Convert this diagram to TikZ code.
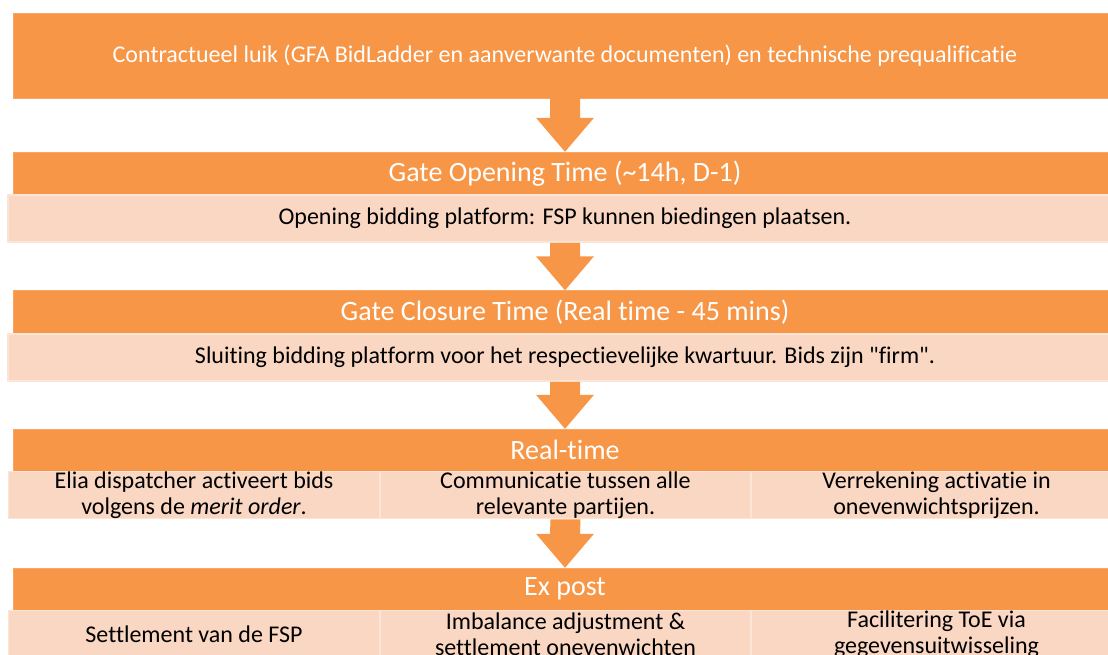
\documentclass[tikz,border=0pt]{standalone}
\usepackage{fontspec}
\setmainfont{Carlito}[Ligatures={NoCommon}]
\usetikzlibrary{calc}
\definecolor{accent}{HTML}{F79646}
\definecolor{tint}{HTML}{FAD7C3}
\definecolor{tintedge}{HTML}{FCE4D7}
\tikzset{
  topbox/.style={fill=accent, draw=accent!85!white, minimum width=1104pt, minimum height=85pt, inner sep=0pt, text=white, font=\fontsize{24}{29}\selectfont},
  header/.style={fill=accent, draw=accent!85!white, minimum width=1104pt, minimum height=43pt, inner sep=0pt, text=white, font=\fontsize{28}{33}\selectfont},
  body/.style={fill=tint, draw=tintedge, line width=1.5pt, minimum height=47pt, inner sep=0pt, align=center, text=black, font=\fontsize{24}{25.5}\selectfont},
  cell/.style={body, minimum width=371pt}
}
% block arrow from the bottom of one box to the top of the next
\newcommand{\blockarrow}[2]{%
  \fill[accent] ($(#1.south)+(-15,0)$) -- ($(#2.north)+(-15,-34)$) -- ($(#2.north)+(-29,-34)$)
    -- (#2.north) -- ($(#2.north)+(29,-34)$) -- ($(#2.north)+(15,-34)$) -- ($(#1.south)+(15,0)$) -- cycle;}
\begin{document}
\begin{tikzpicture}[x=1pt,y=-1pt]
  \useasboundingbox (0,0) rectangle (1108,655);
  \clip (0,0) rectangle (1108,655);

  \node[topbox] (contract) at (565,55.5) {Contractueel luik (GFA BidLadder en aanverwante documenten) en technische prequalificatie};

  \node[header] (goHead) at (565,173.5) {Gate Opening Time (\textasciitilde14h, D-1)};
  \node[body, minimum width=1114pt] (goBody) at (565,218.5) {Opening bidding platform: FSP kunnen biedingen plaatsen.};

  \node[header] (gcHead) at (565,312) {Gate Closure Time (Real time - 45 mins)};
  \node[body, minimum width=1114pt] (gcBody) at (565,357.5) {Sluiting bidding platform voor het respectievelijke kwartuur. Bids zijn \textquotedbl firm\textquotedbl.};

  \node[header, minimum height=42pt] (rtHead) at (565,450) {Real-time};
  \node[cell] (rtA) at (194,495) {Elia dispatcher activeert bids\\volgens de \textit{merit order}.};
  \node[cell] (rtB) at (565.5,495) {Communicatie tussen alle\\relevante partijen.};
  \node[cell] (rtC) at (936.5,495) {Verrekening activatie in\\onevenwichtsprijzen.};

  \node[header, minimum height=42pt] (epHead) at (565,589) {Ex post};
  \node[cell] (epA) at (194,634) {Settlement van de FSP};
  \node[cell] (epB) at (565.5,634) {Imbalance adjustment \&\\settlement onevenwichten};
  \node[cell] (epC) at (936.5,634) {Facilitering ToE via\\gegevensuitwisseling};

  \blockarrow{contract}{goHead}
  \blockarrow{goBody}{gcHead}
  \blockarrow{gcBody}{rtHead}
  \blockarrow{rtB}{epHead}
\end{tikzpicture}
\end{document}
